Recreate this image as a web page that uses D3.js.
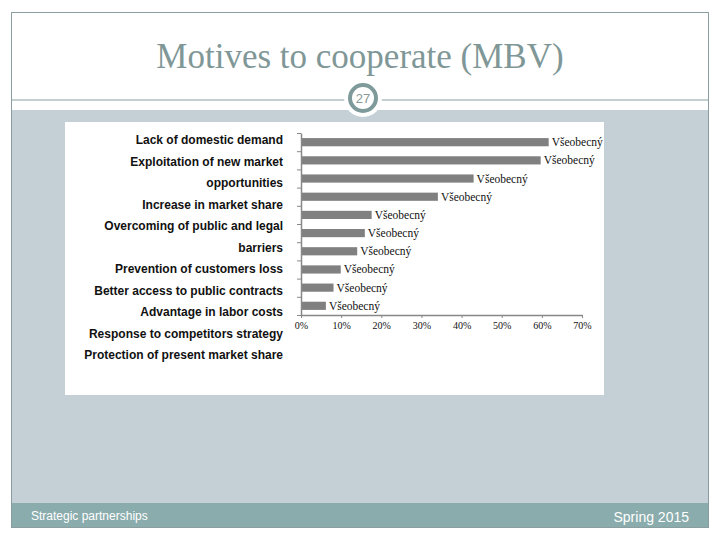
<!DOCTYPE html>
<html>
<head>
<meta charset="utf-8">
<script src="https://cdn.jsdelivr.net/npm/d3@7"></script>
<style>
  body { margin: 0; background: #fff; }
</style>
</head>
<body>
<div id="chart"></div>
<script>
const slideTitle = "Motives to cooperate (MBV)";
const slideNumber = "27";
const footerLeft = "Strategic partnerships";
const footerRight = "Spring 2015";

const categories = [
  "Lack of domestic demand",
  "Exploitation of new market opportunities",
  "Increase in market share",
  "Overcoming of public and legal barriers",
  "Prevention of customers loss",
  "Better access to public contracts",
  "Advantage in labor costs",
  "Response to competitors strategy",
  "Protection of present market share",
];
const barValues = [61.7, 59.7, 43.0, 34.1, 17.6, 15.9, 14.0, 9.9, 8.1, 6.2];
const barLabel = "Všeobecný";
const xTicks = [0, 10, 20, 30, 40, 50, 60, 70];

const W = 720, H = 540;
const svg = d3.select("#chart").append("svg").attr("width", W).attr("height", H);

// slide frame
svg.append("rect").attr("x", 12).attr("y", 110).attr("width", 696).attr("height", 393).attr("fill", "#c5d0d6");
svg.append("rect").attr("x", 12).attr("y", 503).attr("width", 696).attr("height", 24).attr("fill", "#8aacac");
svg.append("rect").attr("x", 11.5).attr("y", 12.5).attr("width", 697).attr("height", 515)
  .attr("fill", "none").attr("stroke", "#8a9ea0").attr("stroke-width", 1);

svg.append("text").attr("x", 360).attr("y", 68).attr("text-anchor", "middle")
  .attr("font-family", "Liberation Serif, serif").attr("font-size", 35)
  .attr("fill", "#809797").text(slideTitle);

svg.append("line").attr("x1", 12).attr("x2", 708).attr("y1", 100).attr("y2", 100)
  .attr("stroke", "#8aa0a0").attr("stroke-width", 1);
svg.append("circle").attr("cx", 363).attr("cy", 98).attr("r", 19).attr("fill", "#fff");
svg.append("circle").attr("cx", 363).attr("cy", 98).attr("r", 13).attr("fill", "#fff")
  .attr("stroke", "#7f9a9a").attr("stroke-width", 4);
svg.append("text").attr("x", 363).attr("y", 103).attr("text-anchor", "middle")
  .attr("font-family", "Liberation Sans, Arial, sans-serif").attr("font-size", 13)
  .attr("fill", "#889898").text(slideNumber);

svg.append("text").attr("x", 31).attr("y", 520)
  .attr("font-family", "Liberation Sans, Arial, sans-serif").attr("font-size", 12)
  .attr("fill", "#fff").text(footerLeft);
svg.append("text").attr("x", 689).attr("y", 522).attr("text-anchor", "end")
  .attr("font-family", "Liberation Sans, Arial, sans-serif").attr("font-size", 14)
  .attr("fill", "#fff").text(footerRight);

// chart box
svg.append("rect").attr("x", 65).attr("y", 122).attr("width", 539).attr("height", 273).attr("fill", "#fff");

// category labels (wrapped, stacked as a text block)
const measure = svg.append("text").attr("font-family", "Liberation Sans, Arial, sans-serif")
  .attr("font-size", 12).attr("font-weight", "bold");
const lines = [];
categories.forEach(c => {
  let cur = "";
  c.split(" ").forEach(w => {
    const t = cur ? cur + " " + w : w;
    measure.text(t);
    if (measure.node().getComputedTextLength() > 205 && cur) { lines.push(cur); cur = w; }
    else cur = t;
  });
  lines.push(cur);
});
measure.remove();

const yLines = d3.scalePoint().domain(d3.range(lines.length)).range([140, 355]);
svg.append("g").selectAll("text").data(lines).enter().append("text")
  .attr("x", 283).attr("y", (d, i) => yLines(i)).attr("dy", "0.35em")
  .attr("text-anchor", "end")
  .attr("font-family", "Liberation Sans, Arial, sans-serif").attr("font-size", 12)
  .attr("font-weight", "bold").attr("fill", "#111").text(d => d);

// bars
const x = d3.scaleLinear().domain([0, 70]).range([301, 582]);
const y = d3.scaleBand().domain(d3.range(barValues.length)).range([133, 315]).paddingInner(0.55).paddingOuter(0.28);
const yEdges = d3.scaleLinear().domain([0, barValues.length]).range([133, 315]);

svg.append("g").selectAll("rect").data(barValues).enter().append("rect")
  .attr("x", x(0)).attr("y", (d, i) => y(i))
  .attr("width", d => x(d) - x(0)).attr("height", y.bandwidth())
  .attr("fill", "#808080");

svg.append("g").selectAll("text").data(barValues).enter().append("text")
  .attr("x", d => x(d) + 3).attr("y", (d, i) => y(i) + y.bandwidth() / 2).attr("dy", "0.35em")
  .attr("font-family", "Liberation Serif, serif").attr("font-size", 11.5)
  .attr("fill", "#111").text(barLabel);

const axisColor = "#888";
const gx = svg.append("g").attr("transform", `translate(0,315)`)
  .call(d3.axisBottom(x).tickValues(xTicks).tickFormat(d => d + "%").tickSize(3).tickSizeOuter(0));
const gy = svg.append("g").attr("transform", `translate(301,0)`)
  .call(d3.axisLeft(yEdges).ticks(barValues.length).tickFormat("").tickSize(4).tickSizeOuter(0));
[gx, gy].forEach(g => {
  g.select(".domain").attr("stroke", axisColor).attr("stroke-width", 1.5);
  g.selectAll(".tick line").attr("stroke", axisColor);
});
gx.selectAll(".tick text").attr("font-family", "Liberation Serif, serif").attr("font-size", 10)
  .attr("fill", "#111").attr("dy", "0.8em");
</script>
</body>
</html>
